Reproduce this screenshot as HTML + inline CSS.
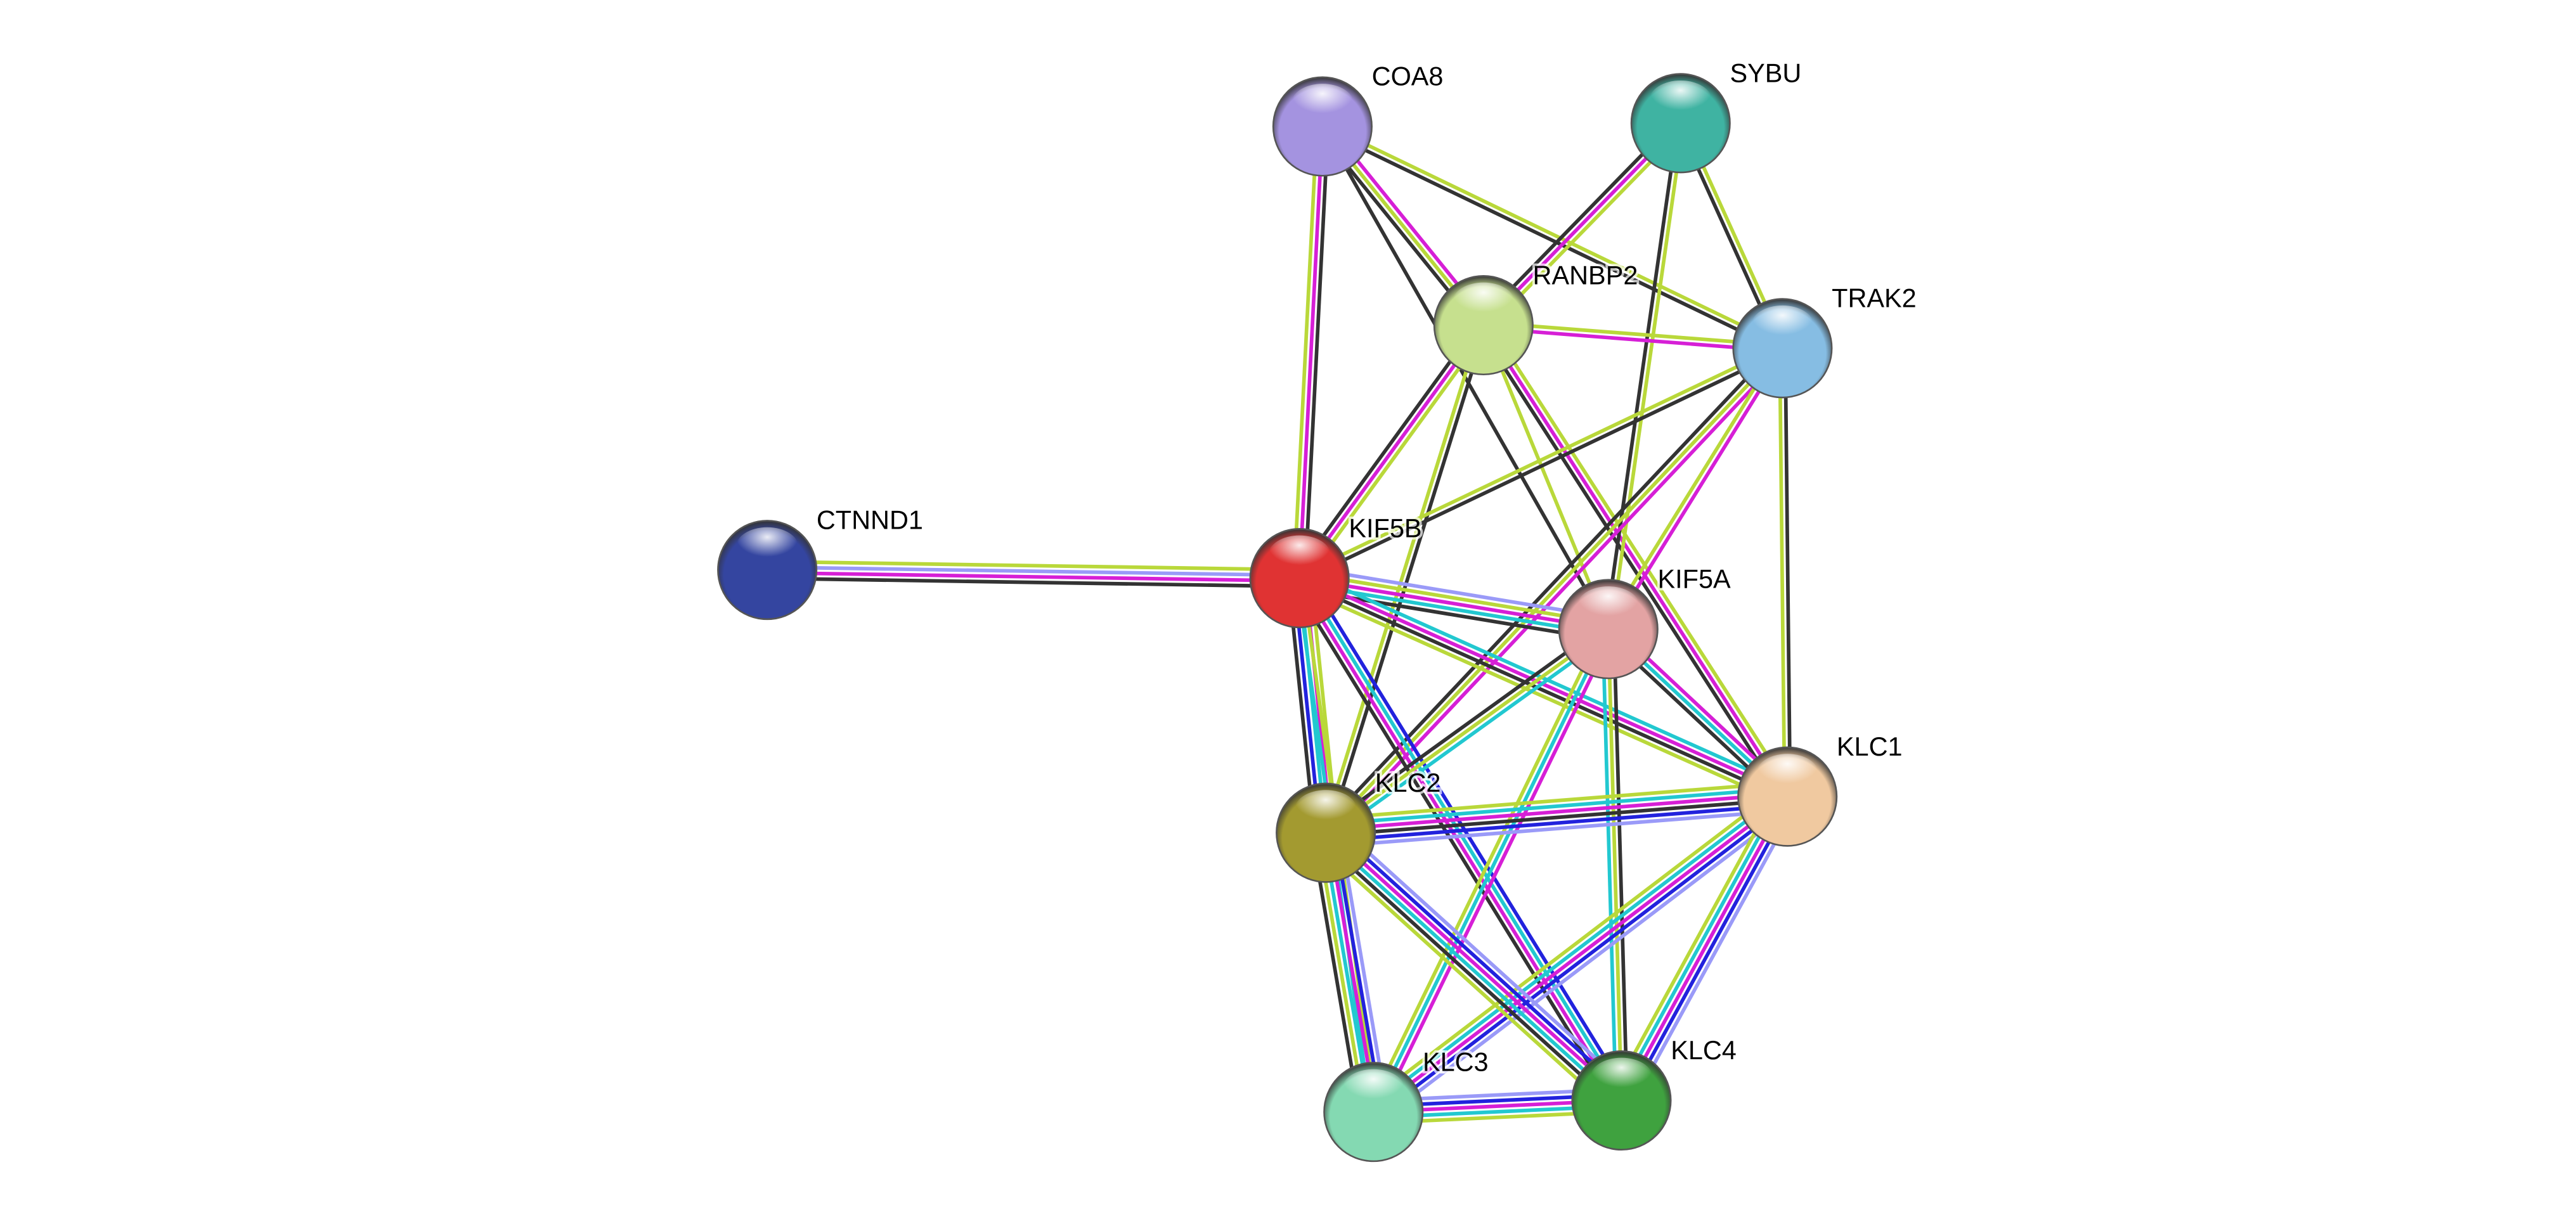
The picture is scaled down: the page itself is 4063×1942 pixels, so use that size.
<!DOCTYPE html>
<html><head><meta charset="utf-8"><style>html,body{margin:0;padding:0;background:#fff}svg{display:block}</style></head>
<body>
<svg id="s" xmlns="http://www.w3.org/2000/svg" width="4063" height="1942" viewBox="0 0 1568 749.5">
<defs>
<radialGradient id="hl" cx="0.5" cy="0.25" r="0.5"><stop offset="0" stop-color="#fff" stop-opacity="0.9"/><stop offset="1" stop-color="#fff" stop-opacity="0"/></radialGradient>
</defs>
<g id="edges"></g><g id="nodes"></g>
</svg>
<script>
var N={COA8:[805,77,'#a493e0'],SYBU:[1023,75,'#3fb3a2'],RANBP2:[903,198,'#c6e08e'],TRAK2:[1085,212,'#86bde3'],CTNND1:[467,347,'#3445a0'],KIF5B:[791,352,'#e03333'],KIF5A:[979,383,'#e3a3a3'],KLC1:[1088,485,'#f0c9a0'],KLC2:[807,507,'#a39a30'],KLC3:[836,677,'#84d9b2'],KLC4:[987,670,'#3fa23f']};
var C={k:'#333333',m:'#d61fd6',y:'#b9d83a',c:'#22c8d0',b:'#2222dd',l:'#9a9af8'};
var E=[['CTNND1','KIF5B','ylmk'],['COA8','KIF5B','kmy'],['COA8','RANBP2','myk'],['COA8','TRAK2','yk'],['COA8','KIF5A','k'],['RANBP2','KLC1','ymk'],['RANBP2','KIF5A','y'],['SYBU','RANBP2','ymk'],['SYBU','TRAK2','yk'],['SYBU','KIF5A','yk'],['RANBP2','TRAK2','ym'],['RANBP2','KIF5B','ymk'],['RANBP2','KLC2','ky'],['TRAK2','KIF5B','ky'],['TRAK2','KLC2','myk'],['TRAK2','KLC1','ky'],['TRAK2','KIF5A','my'],['KIF5B','KIF5A','lymck'],['KIF5B','KLC1','cmky'],['KIF5B','KLC2','ymcbk'],['KIF5B','KLC3','yc'],['KIF5B','KLC4','bcmk'],['KIF5A','KLC1','mck'],['KIF5A','KLC2','cyk'],['KIF5A','KLC3','mcy'],['KIF5A','KLC4','kyc'],['KLC1','KLC2','lbkmcy'],['KLC1','KLC3','lbmcy'],['KLC1','KLC4','lbmcy'],['KLC2','KLC3','lbmcyk'],['KLC2','KLC4','lbmcky'],['KLC3','KLC4','lbmcy']];
var eg=document.getElementById('edges'),ng=document.getElementById('nodes'),h='';
E.forEach(function(e){var a=N[e[0]],b=N[e[1]],dx=b[0]-a[0],dy=b[1]-a[1],L=Math.hypot(dx,dy),px=-dy/L,py=dx/L,n=e[2].length;
for(var i=0;i<n;i++){var o=(i-(n-1)/2)*3.4;h+='<line x1="'+(a[0]+px*o)+'" y1="'+(a[1]+py*o)+'" x2="'+(b[0]+px*o)+'" y2="'+(b[1]+py*o)+'" stroke="'+C[e[2][i]]+'" stroke-width="2.2"/>';}});
eg.innerHTML=h;h='';var gi=0;
for(var k in N){var p=N[k];gi++;
h+='<radialGradient id="g'+gi+'" cx="0.5" cy="0.55" r="0.55"><stop offset="0" stop-color="'+p[2]+'"/><stop offset="0.8" stop-color="'+p[2]+'"/><stop offset="1" stop-color="#333"/></radialGradient>';
h+='<circle cx="'+p[0]+'" cy="'+p[1]+'" r="30" fill="url(#g'+gi+')" stroke="#555" stroke-width="1"/>';
h+='<ellipse cx="'+p[0]+'" cy="'+(p[1]-14)+'" rx="19" ry="12" fill="url(#hl)"/>';
h+='<text x="'+(p[0]+30)+'" y="'+(p[1]-25)+'" font-family="Liberation Sans, sans-serif" font-size="16" fill="#000" stroke="#fff" stroke-width="3" stroke-opacity="0.7" paint-order="stroke">'+k+'</text>';}
ng.innerHTML=h;
</script>
</body></html>
